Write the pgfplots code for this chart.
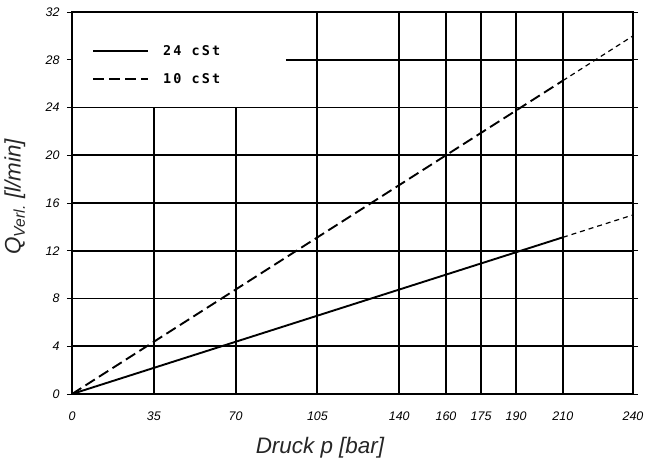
\documentclass[border=0pt]{standalone}
\usepackage{pgfplots}
\pgfplotsset{compat=1.18}
\usepackage{fontspec}
\setmainfont{Liberation Sans}
\newfontfamily\legfont[LetterSpace=16]{DejaVu Sans Mono Bold}
\begin{document}
\begin{tikzpicture}
\begin{axis}[
  name=ax,
  scale only axis,
  width=561bp, height=382bp,
  xmin=0, xmax=240, ymin=0, ymax=32,
  xtick={0,35,70,105,140,160,175,190,210,240},
  ytick={0,4,...,32},
  /pgf/number format/assume math mode=true,
  ticklabel style={font=\fontsize{12.5}{14}\selectfont\itshape},
  xtick style={draw=none},
  ytick style={line width=1pt, black},
  ytick align=outside,
  major tick length=5bp,
  xticklabel style={yshift=-14bp},
  yticklabel style={xshift=-4bp},
  axis line style={line width=2pt},
  xlabel={Druck p [bar]},
  ylabel={Q\textsubscript{Verl.} [l/min]},
  label style={font=\fontsize{22.5}{26}\selectfont\itshape, color=black!85},
  xlabel style={at={(axis description cs:0.442,0)}, anchor=center, yshift=-54bp},
  ylabel style={at={(axis description cs:-0.102,0.516)}, anchor=center},
  legend cell align=left,
  legend style={at={(axis cs:8.56,29.25)}, anchor=north west, draw=none, fill=none,
    font=\fontsize{13.5}{15}\selectfont\legfont, row sep=17bp, column sep=14bp,
    inner sep=0pt, nodes={inner sep=0pt}},
  legend image code/.code={\draw[#1] (0bp,0bp) -- (55bp,0bp);},
  clip=false,
]
% grid
\draw[line width=2pt] (axis cs:0,4) -- (axis cs:240,4);
\draw[line width=2pt] (axis cs:0,8) -- (axis cs:240,8);
\draw[line width=2pt] (axis cs:0,12) -- (axis cs:240,12);
\draw[line width=2pt] (axis cs:0,16) -- (axis cs:240,16);
\draw[line width=2pt] (axis cs:0,20) -- (axis cs:240,20);
\draw[line width=2pt] (axis cs:0,24) -- (axis cs:240,24);
\draw[line width=2pt] (axis cs:91.5,28) -- (axis cs:240,28);
\draw[line width=2pt] (axis cs:35,0) -- (axis cs:35,24);
\draw[line width=2pt] (axis cs:70,0) -- (axis cs:70,24);
\draw[line width=2pt] (axis cs:105,0) -- (axis cs:105,32);
\draw[line width=2pt] (axis cs:140,0) -- (axis cs:140,32);
\draw[line width=2pt] (axis cs:160,0) -- (axis cs:160,32);
\draw[line width=2pt] (axis cs:175,0) -- (axis cs:175,32);
\draw[line width=2pt] (axis cs:190,0) -- (axis cs:190,32);
\draw[line width=2pt] (axis cs:210,0) -- (axis cs:210,32);
% data
\addplot[black, line width=1.9pt] coordinates {(0,0) (210,13.125)};
\addlegendentry{24 cSt}
\addplot[black, line width=1.9pt, dash pattern=on 11bp off 5bp] coordinates {(0,0) (210,26.25)};
\addlegendentry{10 cSt}
\addplot[black, line width=1.2pt, dash pattern=on 5bp off 4bp, forget plot] coordinates {(210,13.125) (240,15)};
\addplot[black, line width=1.2pt, dash pattern=on 5bp off 4bp, forget plot] coordinates {(210,26.25) (240,30)};
\end{axis}
\pgfresetboundingbox
\path ([shift={(-72bp,-67bp)}]ax.south west) rectangle ([shift={(13bp,12bp)}]ax.north east);
\end{tikzpicture}
\end{document}
